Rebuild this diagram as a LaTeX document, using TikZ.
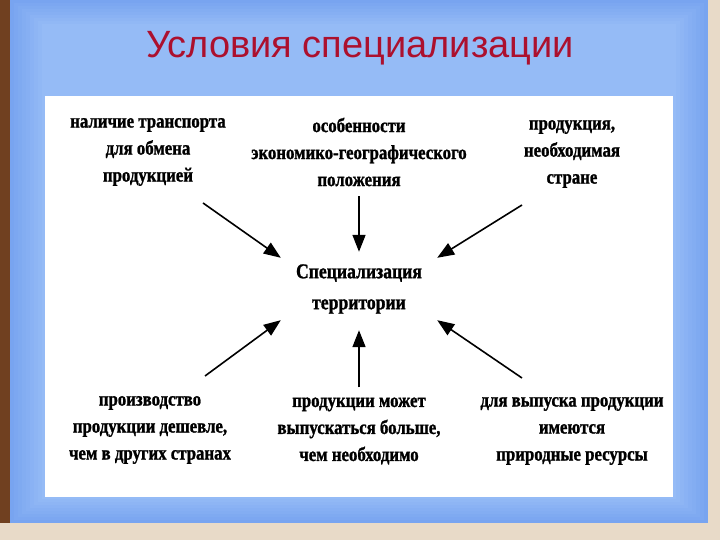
\documentclass[tikz,border=0pt]{standalone}
\usepackage{fontspec}
\setmainfont{Liberation Serif}
\newfontfamily\scanfont[FakeStretch=0.84, FakeBold=1.2]{Liberation Serif}
\newfontfamily\titlefont{Liberation Sans}
\usetikzlibrary{arrows.meta}
\definecolor{slideblue}{RGB}{120,164,240}
\definecolor{paleblue}{RGB}{150,188,246}
\definecolor{titlered}{RGB}{172,16,46}
\definecolor{wood}{RGB}{112,64,32}
\definecolor{sand}{RGB}{232,218,200}
\begin{document}
\begin{tikzpicture}[x=1pt, y=1pt, >={Triangle[length=17pt,width=13pt]},
  every node/.style={font=\scanfont\fontsize{20}{27}\selectfont\bfseries},
  factor/.style={align=center, inner sep=2pt},
  arrow/.style={->, line width=1.6pt}]
\useasboundingbox (0,0) rectangle (720,540);
% slide frame
\fill[sand] (0,0) rectangle (720,540);
\fill[wood] (0,17) rectangle (10,540);
\fill[slideblue] (10,17) rectangle (708,540);
\foreach \i in {1,...,8} {
  \pgfmathtruncatemacro\p{100-12*\i}
  \fill[slideblue!\p!paleblue] (10+4*\i,17+3*\i) rectangle (708-4*\i,540-3*\i);
}
\fill[white] (45,43) rectangle (673,444);
\node[font=\titlefont\fontsize{38}{44}\selectfont, text=titlered] (title) at (360,492) {Условия специализации};

% factors
\node[factor] (transport) at (148,388) {наличие транспорта\\для обмена\\продукцией};
\node[factor] (position) at (359,388) {особенности\\экономико-географического\\положения};
\node[factor] (demand) at (572,386) {продукция,\\необходимая\\стране};
\node[factor, font=\scanfont\fontsize{21}{31}\selectfont\bfseries, minimum width=156pt, minimum height=62pt] (spec) at (359,251) {Специализация\\территории};
\node[factor] (cheap) at (150,110) {производство\\продукции дешевле,\\чем в других странах};
\node[factor] (surplus) at (359,109) {продукции может\\выпускаться больше,\\чем необходимо};
\node[factor] (resources) at (572,109) {для выпуска продукции\\имеются\\природные ресурсы};

\coordinate (transportend) at (203,337);
\coordinate (demandend) at (522,335);
\coordinate (cheapend) at (205,164);
\coordinate (resourcesend) at (522,162);

\draw[arrow] (transportend) -- (spec.north west);
\draw[arrow, shorten <=8pt, shorten >=6pt] (position) -- (spec);
\draw[arrow] (demandend) -- (spec.north east);
\draw[arrow] (cheapend) -- (spec.south west);
\draw[arrow, shorten <=8pt, shorten >=10pt] (surplus) -- (spec);
\draw[arrow] (resourcesend) -- (spec.south east);
\end{tikzpicture}
\end{document}
